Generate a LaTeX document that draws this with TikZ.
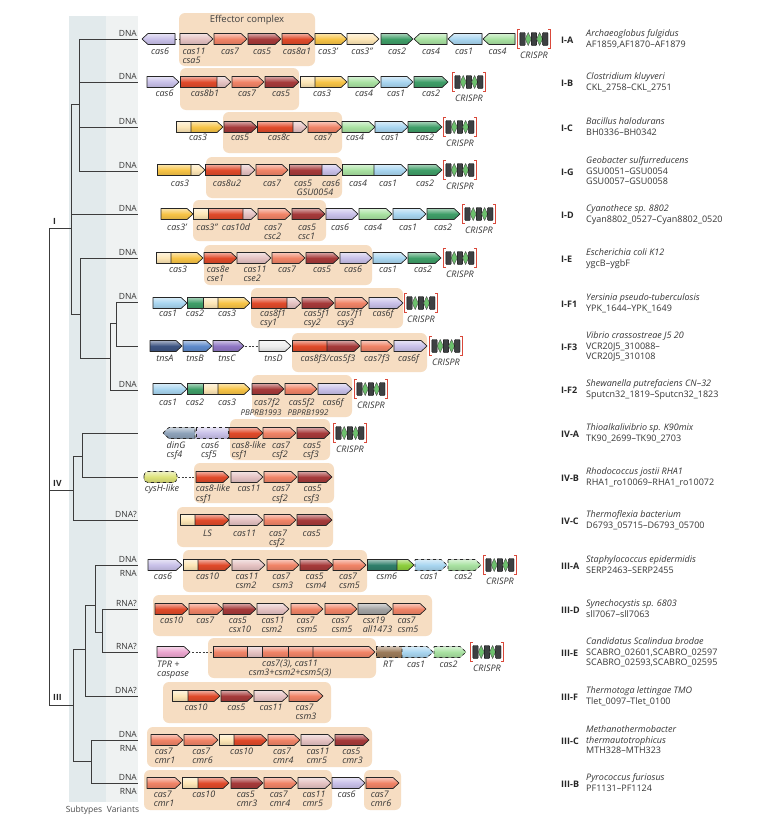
\documentclass[tikz,border=0pt]{standalone}
\usepackage{fontspec}
\setmainfont{Open Sans}
\setsansfont{Open Sans}
\definecolor{c6}{HTML}{C9C1E9}
\definecolor{c11}{HTML}{E5C2C2}
\definecolor{c7}{HTML}{F08467}
\definecolor{c5}{HTML}{A63A3A}
\definecolor{c8}{HTML}{E04A2A}
\definecolor{c3}{HTML}{F7C447}
\definecolor{c3b}{HTML}{FDE6B6}
\definecolor{c2}{HTML}{3F9E68}
\definecolor{c4}{HTML}{A9E2A2}
\definecolor{c1}{HTML}{A9D6F0}
\definecolor{tnsA}{HTML}{3E5582}
\definecolor{tnsB}{HTML}{5E8ACB}
\definecolor{tnsC}{HTML}{8F76C4}
\definecolor{tnsD}{HTML}{EEEEEE}
\definecolor{dinG}{HTML}{8EA3BA}
\definecolor{cysH}{HTML}{DDE27A}
\definecolor{csmA}{HTML}{2F7F6B}
\definecolor{csmB}{HTML}{8DCF3C}
\definecolor{csx}{HTML}{A3A3A3}
\definecolor{tpr}{HTML}{EBA6CF}
\definecolor{rt}{HTML}{9C7B5A}
\definecolor{eff}{HTML}{F6DDC2}
\definecolor{bandA}{HTML}{E2EAEC}
\definecolor{bandB}{HTML}{EFF2F2}
\definecolor{crbx}{HTML}{3D4042}
\definecolor{crdi}{HTML}{6DC06D}
\definecolor{brk}{HTML}{D9483A}
\definecolor{txt}{HTML}{363636}
\definecolor{treec}{HTML}{3C3C3C}
\tikzset{
 gene/.style={draw=black!85, line width=0.65pt, line join=round},
 gfill/.style={top color=#1!45!white, bottom color=#1!88!black, middle color=#1},
 link/.style={draw=black!75, line width=0.8pt, dash pattern=on 2pt off 1.5pt},
 tree/.style={draw=treec, line width=1pt},
 glab/.style={font=\fontsize{9}{9.2}\selectfont\itshape, text=txt, inner sep=0pt, anchor=base},
 vlab/.style={font=\fontsize{8.5}{9}\selectfont, text=txt, inner sep=0pt, anchor=base east},
 clab/.style={font=\fontsize{8.5}{10}\selectfont\bfseries, text=black!85, inner sep=0pt, anchor=base west},
 typ/.style={font=\fontsize{9}{10}\selectfont\bfseries, text=black!85, inner sep=0pt, anchor=west},
 spec/.style={font=\fontsize{9}{10.5}\selectfont, text=txt, inner sep=0pt, anchor=west},
 effb/.style={fill=eff, rounded corners=6pt},
 crb/.style={fill=crbx, draw=black, line width=0.4pt, rounded corners=0.8pt},
 crd/.style={fill=crdi, draw=black!70, line width=0.4pt},
 brkt/.style={draw=brk, line width=1pt},
}
\newcounter{nlab}
\newcommand\geneR[5][]{\filldraw[gene,gfill=#5,#1] (#2,#4-5.5) -- (#3-6,#4-5.5) -- (#3,#4) -- (#3-6,#4+5.5) -- (#2,#4+5.5) -- cycle;}
\newcommand\geneL[5][]{\filldraw[gene,gfill=#5,#1] (#2,#4) -- (#2+6,#4-5.5) -- (#3,#4-5.5) -- (#3,#4+5.5) -- (#2+6,#4+5.5) -- cycle;}
\newcommand\geneB[5][]{\filldraw[gene,gfill=#5,#1] (#2,#4-5.5) rectangle (#3,#4+5.5);}
\newcommand\glabel[3]{\stepcounter{nlab}\node[glab] (t\arabic{nlab}) at (#1,#2) {\begin{tabular}[t]{@{}l@{}}#3\end{tabular}};}
\newcommand\effbox[4]{\fill[effb] (#1,#2) rectangle (#3,#4);}
\newcommand\crispr[2]{%
 \draw[brkt] (#1+2.8,#2-9.5) -- (#1+0.8,#2-9.5) -- (#1+0.8,#2+9.5) -- (#1+2.8,#2+9.5);
 \draw[brkt] (#1+31,#2-9.5) -- (#1+33,#2-9.5) -- (#1+33,#2+9.5) -- (#1+31,#2+9.5);
 \filldraw[crb] (#1+2.8,#2-6.5) rectangle (#1+8.2,#2+6.5);
 \filldraw[crd] (#1+8.2,#2) -- (#1+11.2,#2-6.5) -- (#1+14.2,#2) -- (#1+11.2,#2+6.5) -- cycle;
 \filldraw[crb] (#1+14.2,#2-6.5) rectangle (#1+19.6,#2+6.5);
 \filldraw[crd] (#1+19.6,#2) -- (#1+22.6,#2-6.5) -- (#1+25.6,#2) -- (#1+22.6,#2+6.5) -- cycle;
 \filldraw[crb] (#1+25.6,#2-6.5) rectangle (#1+31,#2+6.5);}
\newcommand\crlab[2]{\glabel{#1+17}{#2+19}{CRISPR}}
\begin{document}
\begin{tikzpicture}[x=1pt,y=-1pt]
\useasboundingbox (0,0) rectangle (757,827);
\fill[white] (0,0) rectangle (757,827);
% bands
\fill[bandA] (69,16) rectangle (106,802);
\fill[bandB] (106,16) rectangle (138,802);
\node[font=\fontsize{8.5}{9}\selectfont, text=black!70, inner sep=0pt, anchor=base] (subt) at (84,812) {Subtypes};
\node[font=\fontsize{8.5}{9}\selectfont, text=black!70, inner sep=0pt, anchor=base] (vari) at (123,812) {Variants};
% tree
\foreach \n/\y in {IA/39,IB/82,IC/127,IG/171,ID/214,IE/258,IFa/302,IFc/346,IFb/390,IVA/433,IVB/477,IVC/520,IIIA/565,IIID/609,IIIE/652,IIIF/696,IIIC/740,IIIB/783}
  {\coordinate (l\n) at (138,\y);}
\coordinate (nD) at (116,323);
\coordinate (nC) at (110,358);
\coordinate (nB) at (80,314);
\coordinate (nA) at (79,104);
\coordinate (nI) at (71,228);
\coordinate (nE) at (82,456);
\coordinate (nIV) at (73,490);
\coordinate (nH) at (102,632);
\coordinate (nG) at (95,605);
\coordinate (nF) at (85,649);
\coordinate (nJ) at (91,761);
\coordinate (nIII) at (73,705);
\coordinate (root) at (49,228);
% node A
\draw[tree] (nA |- lIA) -- (nA |- lIG);
\foreach \c in {lIA,lIB,lIC,lIG} {\draw[tree] (nA |- \c) -- (\c);}
% node D
\draw[tree] (nD |- lIFa) -- (nD |- lIFc);
\draw[tree] (nD |- lIFa) -- (lIFa);
\draw[tree] (nD |- lIFc) -- (lIFc);
% node C
\draw[tree] (nC |- nD) -- (nC |- lIFb);
\draw[tree] (nC |- nD) -- (nD);
\draw[tree] (nC |- lIFb) -- (lIFb);
% node B
\draw[tree] (nB |- lIE) -- (nB |- nC);
\draw[tree] (nB |- lIE) -- (lIE);
\draw[tree] (nB |- nC) -- (nC);
% node I
\draw[tree] (nI |- nA) -- (nI |- nB);
\draw[tree] (nI |- nA) -- (nA);
\draw[tree] (nI |- lID) -- (lID);
\draw[tree] (nI |- nB) -- (nB);
% IV
\draw[tree] (nE |- lIVA) -- (nE |- lIVB);
\draw[tree] (nE |- lIVA) -- (lIVA);
\draw[tree] (nE |- lIVB) -- (lIVB);
\draw[tree] (nIV |- nE) -- (nIV |- lIVC);
\draw[tree] (nIV |- nE) -- (nE);
\draw[tree] (nIV |- lIVC) -- (lIVC);
% III
\draw[tree] (nH |- lIIID) -- (nH |- lIIIE);
\draw[tree] (nH |- lIIID) -- (lIIID);
\draw[tree] (nH |- lIIIE) -- (lIIIE);
\draw[tree] (nG |- lIIIA) -- (nG |- nH);
\draw[tree] (nG |- lIIIA) -- (lIIIA);
\draw[tree] (nG |- nH) -- (nH);
\draw[tree] (nF |- nG) -- (nF |- lIIIF);
\draw[tree] (nF |- nG) -- (nG);
\draw[tree] (nF |- lIIIF) -- (lIIIF);
\draw[tree] (nJ |- lIIIC) -- (nJ |- lIIIB);
\draw[tree] (nJ |- lIIIC) -- (lIIIC);
\draw[tree] (nJ |- lIIIB) -- (lIIIB);
\draw[tree] (nIII |- nF) -- (nIII |- nJ);
\draw[tree] (nIII |- nF) -- (nF);
\draw[tree] (nIII |- nJ) -- (nJ);
% root
\draw[tree] (root) -- (root |- nIII);
\draw[tree] (root) -- (nI);
\draw[tree] (root |- nIV) -- (nIV);
\draw[tree] (root |- nIII) -- (nIII);
\node[clab] (kI) at (53,224) {I};
\node[clab] (kIV) at (53,486) {IV};
\node[clab] (kIII) at (53,700) {III};
% variant labels
\foreach \n/\t in {IA/DNA,IB/DNA,IC/DNA,IG/DNA,ID/DNA,IE/DNA,IFa/DNA,IFb/DNA,IVC/DNA?,IIIA/DNA,IIID/RNA?,IIIE/RNA?,IIIF/DNA?,IIIC/DNA,IIIB/DNA}
  {\node[vlab] (v\n) at ([xshift=-1pt,yshift=2.5pt]l\n) {\t};}
\foreach \n in {IIIA,IIIC,IIIB}
  {\node[vlab] (w\n) at ([xshift=-1pt,yshift=-11.5pt]l\n) {RNA};}
% ===== Row I-A
\effbox{179}{13}{315}{66}
\node[font=\fontsize{9.5}{10}\selectfont, text=black!75, inner sep=0pt, anchor=base] (efft) at (247,22) {Effector complex};
\geneL{142}{175}{39}{c6}
\coordinate (iaA) at (175,39); \coordinate (iaB) at (180,39); \draw[link] (iaA) -- (iaB);
\geneR{180}{213}{39}{c11}
\geneR{214}{247}{39}{c7}
\geneR{248}{281}{39}{c5}
\geneR{282}{314}{39}{c8}
\geneR{315}{347}{39}{c3}
\geneR{347}{379}{39}{c3b}
\geneR{381}{413}{39}{c2}
\geneL{414}{447}{39}{c4}
\geneL{448}{482}{39}{c1}
\geneL{483}{515}{39}{c4}
\crispr{517}{39}
\glabel{160}{54.5}{cas6}\glabel{194}{54.5}{cas11\\csa5}\glabel{230}{54.5}{cas7}\glabel{262}{54.5}{cas5}
\glabel{297}{54.5}{cas8a1}\glabel{328}{54.5}{cas3'}\glabel{362}{54.5}{cas3''}\glabel{397}{54.5}{cas2}
\glabel{431}{54.5}{cas4}\glabel{464}{54.5}{cas1}\glabel{497.5}{54.5}{cas4}\crlab{517}{39}
% ===== Row I-B
\effbox{180}{68}{299}{110}
\geneR{147}{179}{82}{c6}
\geneB{180}{217}{82}{c8}\geneR{217}{231}{82}{c11}
\geneR{232}{264}{82}{c7}
\geneR{265}{299}{82}{c5}
\geneB{300}{315}{82}{c3b}\geneR{315}{347}{82}{c3}
\geneR{348}{380}{82}{c4}
\geneR{381}{413}{82}{c1}
\geneR{414}{448}{82}{c2}
\crispr{452}{82}
\glabel{164.5}{96}{cas6}\glabel{205}{96}{cas8b1}\glabel{247}{96}{cas7}\glabel{281}{96}{cas5}
\glabel{322}{96}{cas3}\glabel{364}{96}{cas4}\glabel{396}{96}{cas1}\glabel{431}{96}{cas2}\crlab{452}{82}
% ===== Row I-C
\effbox{223}{112}{342}{153}
\geneB{176}{191}{127}{c3b}\geneR{191}{223}{127}{c3}
\geneR{224}{257}{127}{c5}
\geneB{257}{293}{127}{c8}\geneR{293}{307}{127}{c11}
\geneR{308}{342}{127}{c7}
\geneR{342}{375}{127}{c4}
\geneR{375}{408}{127}{c1}
\geneR{408}{442}{127}{c2}
\crispr{443}{127}
\glabel{198}{140.5}{cas3}\glabel{240}{140.5}{cas5}\glabel{279}{140.5}{cas8c}\glabel{323}{140.5}{cas7}
\glabel{355}{140.5}{cas4}\glabel{390}{140.5}{cas1}\glabel{425}{140.5}{cas2}\crlab{443}{127}
% ===== Row I-G
\effbox{206}{157}{342}{198}
\geneB{157}{191}{170}{c3}\geneR{191}{205}{170}{c3b}
\geneB{205}{241}{170}{c8}\geneR{241}{255}{170}{c11}
\geneR{256}{288}{170}{c7}
\geneB{289}{322}{170}{c5}\geneR{322}{342}{170}{c6}
\geneB{342}{374}{170}{c4}\geneR{374}{407}{170}{c1}
\geneR{408}{442}{170}{c2}
\crispr{443}{170}
\glabel{180}{186}{cas3}\glabel{227}{186}{cas8u2}\glabel{272}{186}{cas7}\glabel{303}{186}{cas5}
\glabel{331}{186}{cas6}\glabel{315}{195.5}{GSU0054}\glabel{358}{186}{cas4}\glabel{388}{186}{cas1}
\glabel{425}{186}{cas2}\crlab{443}{170}
% ===== Row I-D
\effbox{193}{200}{326}{241}
\geneR{161}{193}{214}{c3}
\geneB{193}{208}{214}{c3b}\geneB{208}{243}{214}{c8}\geneR{243}{257}{214}{c11}
\geneR{258}{291}{214}{c7}
\geneR{292}{325}{214}{c5}
\geneR{326}{358}{214}{c6}
\geneR{359}{392}{214}{c4}
\geneR{393}{426}{214}{c1}
\geneR{427}{460}{214}{c2}
\crispr{462}{214}
\glabel{177}{230}{cas3'}\glabel{207}{230}{cas3''}\glabel{236}{230}{cas10d}\glabel{273}{230}{cas7\\csc2}
\glabel{307}{230}{cas5\\csc1}\glabel{340}{230}{cas6}\glabel{373}{230}{cas4}\glabel{408}{230}{cas1}
\glabel{443}{230}{cas2}\crlab{462}{214}
% ===== Row I-E
\effbox{204}{245}{372}{285}
\geneB{156}{171}{258}{c3b}\geneR{171}{203}{258}{c3}
\geneR{204}{237}{258}{c8}
\geneR{237}{271}{258}{c11}
\geneR{272}{305}{258}{c7}
\geneR{306}{339}{258}{c5}
\geneR{340}{372}{258}{c6}
\geneR{373}{407}{258}{c1}
\geneR{408}{441}{258}{c2}
\crispr{443}{258}
\glabel{178}{272.5}{cas3}\glabel{218}{272.5}{cas8e\\cse1}\glabel{255}{272.5}{cas11\\cse2}\glabel{287}{272.5}{cas7}
\glabel{322}{272.5}{cas5}\glabel{353}{272.5}{cas6}\glabel{388}{272.5}{cas1}\glabel{423}{272.5}{cas2}\crlab{443}{258}
% ===== Row I-F1
\effbox{251}{288}{403}{328}
\geneR{153}{187}{303}{c1}
\geneB{187}{203}{303}{c2}\geneB{203}{218}{303}{c3b}\geneR{218}{250}{303}{c3}
\geneB{251}{287}{303}{c8}\geneR{287}{301}{303}{c11}
\geneR{302}{334}{303}{c5}
\geneR{335}{368}{303}{c7}
\geneR{369}{403}{303}{c6}
\crispr{404}{303}
\glabel{168}{316.5}{cas1}\glabel{195}{316.5}{cas2}\glabel{227}{316.5}{cas3}\glabel{273}{316.5}{cas8f1\\csy1}
\glabel{316.7}{316.5}{cas5f1\\csy2}\glabel{350}{316.5}{cas7f1\\csy3}\glabel{383}{316.5}{cas6f}\crlab{404}{303}
% ===== Row I-F3
\effbox{292}{333}{427}{372}
\geneR{150}{182}{346}{tnsA}
\geneR{183}{212}{346}{tnsB}
\geneR{213}{244}{346}{tnsC}
\coordinate (tnsCe) at (245,346); \coordinate (tnsDw) at (258,346); \draw[link] (tnsCe) -- (tnsDw);
\geneR{259}{291}{346}{tnsD}
\geneB{292}{327}{346}{c8}\geneR{327}{360}{346}{c5}
\geneR{361}{393}{346}{c7}
\geneR{394}{427}{346}{c6}
\crispr{429}{346}
\glabel{165}{361.5}{tnsA}\glabel{195}{361.5}{tnsB}\glabel{227}{361.5}{tnsC}\glabel{273.5}{361.5}{tnsD}
\glabel{328}{361.5}{cas8f3/cas5f3}\glabel{377}{361.5}{cas7f3}\glabel{408.5}{361.5}{cas6f}\crlab{429}{346}
% ===== Row I-F2
\effbox{252}{375}{352}{417}
\geneR{153}{187}{389}{c1}
\geneB{187}{203}{389}{c2}\geneB{203}{218}{389}{c3b}\geneR{218}{250}{389}{c3}
\geneR{252}{284}{389}{c5}
\geneR{285}{317}{389}{c7}
\geneR{318}{352}{389}{c6}
\crispr{354}{389}
\glabel{168}{405}{cas1}\glabel{195}{405}{cas2}\glabel{227}{405}{cas3}\glabel{267}{405}{cas7f2}
\glabel{301.7}{405}{cas5f2}\glabel{333}{405}{cas6f}
\node[glab,font=\fontsize{8}{9}\selectfont\itshape] (pb93) at (261,415) {PBPRB1993};
\node[glab,font=\fontsize{8}{9}\selectfont\itshape] (pb92) at (308,415) {PBPRB1992};
\crlab{354}{389}
% ===== Row IV-A
\effbox{230}{419}{330}{460}
\geneL[dashed]{163}{195}{433}{dinG}
\geneB[dashed]{196}{228}{433}{c6}
\geneR{229}{263}{433}{c8}
\geneR{263}{296}{433}{c7}
\geneR{297}{330}{433}{c5}
\crispr{333}{433}
\glabel{176}{448}{dinG\\csf4}\glabel{210}{448}{cas6\\csf5}\glabel{248.7}{448}{cas8-like\\csf1}
\glabel{281}{448}{cas7\\csf2}\glabel{312}{448}{cas5\\csf3}\crlab{333}{433}
% ===== Row IV-B
\effbox{194}{463}{334}{503}
\filldraw[gene,gfill=cysH,dashed,rounded corners=4pt] (144,471.5) rectangle (177,482.5);
\coordinate (cysHe) at (178,477); \coordinate (csf1w) at (195,477); \draw[link] (cysHe) -- (csf1w);
\geneR{196}{229}{477}{c8}
\geneR{231}{263}{477}{c11}
\geneR{264}{297}{477}{c7}
\geneR{298}{332}{477}{c5}
\glabel{162}{491.5}{cysH-like}\glabel{213}{491.5}{cas8-like\\csf1}\glabel{249}{491.5}{cas11}
\glabel{281}{491.5}{cas7\\csf2}\glabel{312.5}{491.5}{cas5\\csf3}
% ===== Row IV-C
\effbox{177}{507}{333}{547}
\geneB{180}{195}{520}{c3b}\geneR{195}{229}{520}{c8}
\geneR{229}{263}{520}{c11}
\geneR{264}{296}{520}{c7}
\geneR{297}{332}{520}{c5}
\glabel{207.5}{536}{LS}\glabel{244.5}{536}{cas11}\glabel{278}{536}{cas7\\csf2}\glabel{311.7}{536}{cas5}
% ===== Row III-A
\effbox{183}{550}{367}{592}
\geneR{148}{182}{565}{c6}
\geneB{183}{198}{565}{c3b}\geneR{198}{231}{565}{c8}
\geneR{232}{265}{565}{c11}
\geneR{267}{299}{565}{c7}
\geneR{300}{333}{565}{c5}
\geneR{333}{366}{565}{c7}
\geneB{367}{397}{565}{csmA}\geneR{397}{414}{565}{csmB}
\geneR[dashed]{415}{447}{565}{c1}
\geneR[dashed]{448}{481}{565}{c4}
\crispr{483}{565}
\glabel{163}{579.5}{cas6}\glabel{207.5}{579.5}{cas10}\glabel{247}{579.5}{cas11\\csm2}\glabel{282.7}{579.5}{cas7\\csm3}
\glabel{316}{579.5}{cas5\\csm4}\glabel{349.5}{579.5}{cas7\\csm5}\glabel{386.7}{579.5}{csm6}\glabel{429}{579.5}{cas1}
\glabel{463.3}{579.5}{cas2}\crlab{483}{565}
% ===== Row III-D
\effbox{153}{595}{432}{636}
\geneR{155}{188}{609}{c8}
\geneR{189}{223}{609}{c7}
\geneR{223}{256}{609}{c5}
\geneR{257}{289}{609}{c11}
\geneR{291}{323}{609}{c7}
\geneR{325}{357}{609}{c7}
\geneR{358}{392}{609}{csx}
\geneR{393}{426}{609}{c7}
\glabel{171.7}{623}{cas10}\glabel{205.3}{623}{cas7}\glabel{240}{623}{cas5\\csx10}\glabel{273}{623}{cas11\\csm2}
\glabel{307}{623}{cas7\\csm5}\glabel{342}{623}{cas7\\csm5}\glabel{377.5}{623}{csx19\\all1473}\glabel{408}{623}{cas7\\csm5}
% ===== Row III-E
\effbox{208}{638}{376}{678}
\geneR{157}{190}{652}{tpr}
\coordinate (tpre) at (192,652); \coordinate (bigw) at (212,652); \draw[link] (tpre) -- (bigw);
\geneB{213}{247}{652}{c7}\geneB{247}{262}{652}{c11}\geneB{262}{288}{652}{c7}\geneB{288}{313}{652}{c7}\geneR{313}{375}{652}{c7}
\geneB[dashed]{376}{402}{652}{rt}
\geneR[dashed]{402}{433}{652}{c1}
\geneR[dashed]{434}{466}{652}{c4}
\crispr{470}{652}
\node[glab,anchor=base west] (tpr) at (157,667) {\begin{tabular}[t]{@{}l@{}}TPR +\\caspase\end{tabular}};
\node[glab] (big) at (290,666.5) {\begin{tabular}[t]{@{}c@{}}cas7(3), cas11\\csm3+csm2+csm5(3)\end{tabular}};
\glabel{388}{667}{RT}\glabel{416}{667}{cas1}\glabel{448.5}{667}{cas2}\crlab{470}{652}
% ===== Row III-F
\effbox{163}{682}{331}{723}
\geneB{172}{188}{696}{c3b}\geneR{188}{220}{696}{c8}
\geneR{221}{253}{696}{c5}
\geneR{254}{288}{696}{c11}
\geneR{289}{323}{696}{c7}
\glabel{196}{710}{cas10}\glabel{236.3}{710}{cas5}\glabel{271}{710}{cas11}\glabel{306}{710}{cas7\\csm3}
% ===== Row III-C
\effbox{147}{727}{372}{767}
\geneR{151}{183}{740}{c7}
\geneR{184}{218}{740}{c7}
\geneB{219}{234}{740}{c3b}\geneR{234}{267}{740}{c8}
\geneR{268}{300}{740}{c7}
\geneR{301}{334}{740}{c11}
\geneR{335}{369}{740}{c5}
\glabel{165}{754}{cas7\\cmr1}\glabel{202.5}{754}{cas7\\cmr6}\glabel{241.7}{754}{cas10}\glabel{283.3}{754}{cas7\\cmr4}
\glabel{318}{754}{cas11\\cmr5}\glabel{352.5}{754}{cas5\\cmr3}
% ===== Row III-B
\effbox{144}{770}{332}{810}\effbox{364}{770}{401}{810}
\geneR{147}{181}{783}{c7}
\geneB{182}{198}{783}{c3b}\geneR{198}{229}{783}{c8}
\geneR{231}{263}{783}{c5}
\geneR{264}{297}{783}{c7}
\geneR{298}{331}{783}{c11}
\geneR{332}{365}{783}{c6}
\geneR{366}{399}{783}{c7}
\glabel{164}{797.5}{cas7\\cmr1}\glabel{203.8}{797.5}{cas10}\glabel{247}{797.5}{cas5\\cmr3}\glabel{280}{797.5}{cas7\\cmr4}
\glabel{314}{797.5}{cas11\\cmr5}\glabel{346.7}{797.5}{cas6}\glabel{381}{797.5}{cas7\\cmr6}
% ===== right labels
\foreach \n/\y/\t in {IA/40/I-A,IB/83/I-B,IC/128/I-C,IG/172/I-G,ID/215/I-D,IE/259/I-E,IFa/304/I-F1,IFc/347/I-F3,IFb/390/I-F2,IVA/434/IV-A,IVB/478/IV-B,IVC/521/IV-C,IIIA/566/III-A,IIID/610/III-D,IIIE/653/III-E,IIIF/697/III-F,IIIC/741/III-C,IIIB/784/III-B}
  {\node[typ] (y\n) at (561,\y) {\t};}
\node[spec] (sIA) at (586,40) {\begin{tabular}{@{}l@{}}\textit{Archaeoglobus fulgidus}\\AF1859,AF1870–AF1879\end{tabular}};
\node[spec] (sIB) at (586,83) {\begin{tabular}{@{}l@{}}\textit{Clostridium kluyveri}\\CKL\_2758–CKL\_2751\end{tabular}};
\node[spec] (sIC) at (586,128) {\begin{tabular}{@{}l@{}}\textit{Bacillus halodurans}\\BH0336–BH0342\end{tabular}};
\node[spec] (sIG) at (586,172) {\begin{tabular}{@{}l@{}}\textit{Geobacter sulfurreducens}\\GSU0051–GSU0054\\GSU0057–GSU0058\end{tabular}};
\node[spec] (sID) at (586,215) {\begin{tabular}{@{}l@{}}\textit{Cyanothece sp. 8802}\\Cyan8802\_0527–Cyan8802\_0520\end{tabular}};
\node[spec] (sIE) at (586,259) {\begin{tabular}{@{}l@{}}\textit{Escherichia coli K12}\\ygcB–ygbF\end{tabular}};
\node[spec] (sIFa) at (586,304) {\begin{tabular}{@{}l@{}}\textit{Yersinia pseudo}-\textit{tuberculosis}\\YPK\_1644–YPK\_1649\end{tabular}};
\node[spec] (sIFc) at (586,347) {\begin{tabular}{@{}l@{}}\textit{Vibrio crassostreae J5 20}\\VCR20J5\_310088–\\VCR20J5\_310108\end{tabular}};
\node[spec] (sIFb) at (586,390) {\begin{tabular}{@{}l@{}}\textit{Shewanella putrefaciens CN}–\textit{32}\\Sputcn32\_1819–Sputcn32\_1823\end{tabular}};
\node[spec] (sIVA) at (586,434) {\begin{tabular}{@{}l@{}}\textit{Thioalkalivibrio sp. K90mix}\\TK90\_2699–TK90\_2703\end{tabular}};
\node[spec] (sIVB) at (586,478) {\begin{tabular}{@{}l@{}}\textit{Rhodococcus jostii RHA1}\\RHA1\_ro10069–RHA1\_ro10072\end{tabular}};
\node[spec] (sIVC) at (586,521) {\begin{tabular}{@{}l@{}}\textit{Thermoflexia bacterium}\\D6793\_05715–D6793\_05700\end{tabular}};
\node[spec] (sIIIA) at (586,566) {\begin{tabular}{@{}l@{}}\textit{Staphylococcus epidermidis}\\SERP2463–SERP2455\end{tabular}};
\node[spec] (sIIID) at (586,610) {\begin{tabular}{@{}l@{}}\textit{Synechocystis sp. 6803}\\sll7067–sll7063\end{tabular}};
\node[spec] (sIIIE) at (586,653) {\begin{tabular}{@{}l@{}}\textit{Candidatus Scalindua brodae}\\SCABRO\_02601,SCABRO\_02597\\SCABRO\_02593,SCABRO\_02595\end{tabular}};
\node[spec] (sIIIF) at (586,697) {\begin{tabular}{@{}l@{}}\textit{Thermotoga lettingae TMO}\\Tlet\_0097–Tlet\_0100\end{tabular}};
\node[spec] (sIIIC) at (586,741) {\begin{tabular}{@{}l@{}}\textit{Methanothermobacter}\\\textit{thermautotrophicus}\\MTH328–MTH323\end{tabular}};
\node[spec] (sIIIB) at (586,784) {\begin{tabular}{@{}l@{}}\textit{Pyrococcus furiosus}\\PF1131–PF1124\end{tabular}};
\end{tikzpicture}
\end{document}
